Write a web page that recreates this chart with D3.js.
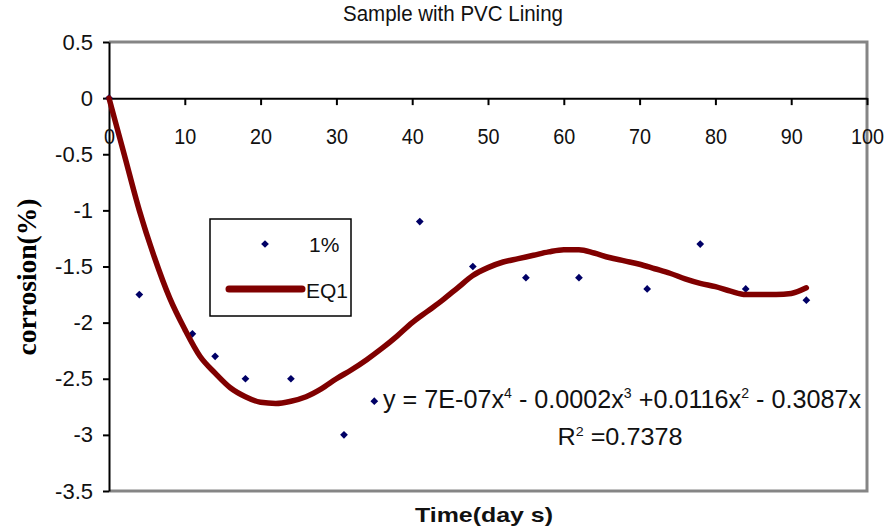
<!DOCTYPE html>
<html>
<head>
<meta charset="utf-8">
<script src="https://cdn.jsdelivr.net/npm/d3@7"></script>
<style>
  body { margin: 0; background: #fff; }
  svg { display: block; font-family: Arial, "Liberation Sans", sans-serif; }
</style>
</head>
<body>
<svg id="chart" width="888" height="529"></svg>
<script>
// measured points (1% series)
const days = [0, 4, 11, 14, 18, 24, 31, 35, 41, 48, 55, 62, 71, 78, 84, 92];
const corrosion = [0, -1.75, -2.1, -2.3, -2.5, -2.5, -3.0, -2.7, -1.1, -1.5, -1.6, -1.6, -1.7, -1.3, -1.7, -1.8];

// EQ1 trend curve
const eqDays = [0, 2, 4, 6, 8, 10, 12, 14, 16, 18, 20, 22, 24, 26, 28, 30, 32, 34, 36, 38, 40,
  42, 44, 46, 48, 50, 52, 54, 56, 58, 60, 62, 64, 66, 68, 70, 72, 74, 76, 78, 80, 82, 84, 86, 88, 90, 92];
const eqValues = [0, -0.5, -1.0, -1.42, -1.78, -2.06, -2.3, -2.45, -2.58, -2.66, -2.71, -2.72, -2.7,
  -2.66, -2.59, -2.5, -2.42, -2.33, -2.23, -2.12, -2.0, -1.9, -1.8, -1.69, -1.58, -1.51, -1.46, -1.43,
  -1.4, -1.37, -1.35, -1.35, -1.38, -1.42, -1.45, -1.48, -1.52, -1.56, -1.61, -1.65, -1.68, -1.72,
  -1.75, -1.75, -1.75, -1.74, -1.69];

const xTicks = [0, 10, 20, 30, 40, 50, 60, 70, 80, 90, 100];
const yTicks = [0.5, 0, -0.5, -1, -1.5, -2, -2.5, -3, -3.5];

const svg = d3.select('#chart');

const x = d3.scaleLinear().domain([0, 100]).range([109, 867]);
const y = d3.scaleLinear().domain([-3.5, 0.5]).range([491, 42]);

// title
svg.append('text')
  .attr('x', 453)
  .attr('y', 21)
  .attr('text-anchor', 'middle')
  .attr('font-size', 22)
  .attr('textLength', 220)
  .attr('lengthAdjust', 'spacingAndGlyphs')
  .attr('fill', '#111')
  .text('Sample with PVC Lining');

// gray plot frame (top, right, bottom)
svg.append('path')
  .attr('d', `M${x(0)},${y(0.5)}H${x(100)}V${y(-3.5)}H${x(0)}`)
  .attr('fill', 'none')
  .attr('stroke', '#858585')
  .attr('stroke-width', 3);

// y axis
const yAxis = d3.axisLeft(y)
  .tickValues(yTicks)
  .tickSize(6)
  .tickSizeOuter(0)
  .tickPadding(10)
  .tickFormat(d => String(d));

const gy = svg.append('g')
  .attr('transform', `translate(${x(0)},0)`)
  .call(yAxis);

gy.select('.domain').attr('stroke', '#000').attr('stroke-width', 2);
gy.selectAll('.tick line').attr('stroke', '#000').attr('stroke-width', 2);
gy.selectAll('.tick text')
  .attr('font-size', 22)
  .attr('font-family', 'Arial, "Liberation Sans", sans-serif')
  .attr('fill', '#111');

// x axis sits on y = 0
const xAxis = d3.axisBottom(x)
  .tickValues(xTicks)
  .tickSize(7)
  .tickSizeOuter(0)
  .tickPadding(23)
  .tickFormat(d => String(d));

const gx = svg.append('g')
  .attr('transform', `translate(0,${y(0)})`)
  .call(xAxis);

gx.select('.domain').attr('stroke', '#000').attr('stroke-width', 2);
gx.selectAll('.tick line').attr('stroke', '#000').attr('stroke-width', 2);
gx.selectAll('.tick text')
  .attr('font-size', 22)
  .attr('transform', 'scale(0.9,1)')
  .attr('font-family', 'Arial, "Liberation Sans", sans-serif')
  .attr('fill', '#111');

// axis titles
svg.append('text')
  .attr('transform', 'translate(36,277) rotate(-90)')
  .attr('text-anchor', 'middle')
  .attr('font-family', '"Times New Roman", "Liberation Serif", serif')
  .attr('font-weight', 'bold')
  .attr('font-size', 28)
  .attr('textLength', 157)
  .attr('lengthAdjust', 'spacingAndGlyphs')
  .text('corrosion(%)');

svg.append('text')
  .attr('x', 484)
  .attr('y', 522)
  .attr('text-anchor', 'middle')
  .attr('font-weight', 'bold')
  .attr('font-size', 21)
  .attr('textLength', 138)
  .attr('lengthAdjust', 'spacingAndGlyphs')
  .attr('fill', '#111')
  .text('Time(day s)');

// markers first, trend line drawn over them
const marker = d3.symbol().type(d3.symbolSquare).size(30);
const points = days.map((d, i) => ({ day: d, value: corrosion[i] }));

svg.append('g')
  .selectAll('path')
  .data(points)
  .enter()
  .append('path')
  .attr('d', marker)
  .attr('transform', d => `translate(${x(d.day)},${y(d.value)}) rotate(45)`)
  .attr('fill', '#000066');

const eq = eqDays.map((d, i) => ({ day: d, value: eqValues[i] }));

const line = d3.line()
  .x(d => x(d.day))
  .y(d => y(d.value))
  .curve(d3.curveMonotoneX);

svg.append('path')
  .datum(eq)
  .attr('d', line)
  .attr('fill', 'none')
  .attr('stroke', '#800000')
  .attr('stroke-width', 5.5)
  .attr('stroke-linecap', 'round')
  .attr('stroke-linejoin', 'round');

// legend
const legend = svg.append('g');

legend.append('rect')
  .attr('x', 210)
  .attr('y', 219)
  .attr('width', 141)
  .attr('height', 97)
  .attr('fill', '#fff')
  .attr('stroke', '#000')
  .attr('stroke-width', 1.5);

legend.append('path')
  .attr('d', marker)
  .attr('transform', 'translate(265,244) rotate(45)')
  .attr('fill', '#000066');

legend.append('text')
  .attr('x', 309)
  .attr('y', 252)
  .attr('font-size', 21)
  .attr('fill', '#111')
  .text('1%');

legend.append('line')
  .attr('x1', 229)
  .attr('x2', 302)
  .attr('y1', 289)
  .attr('y2', 289)
  .attr('stroke', '#800000')
  .attr('stroke-width', 7)
  .attr('stroke-linecap', 'round');

legend.append('text')
  .attr('x', 306)
  .attr('y', 298)
  .attr('font-size', 21)
  .attr('fill', '#111')
  .text('EQ1');

// trendline equation
const eqText = svg.append('text')
  .attr('x', 383)
  .attr('y', 408)
  .attr('font-size', 25)
  .attr('fill', '#111')
  .attr('textLength', 478)
  .attr('lengthAdjust', 'spacingAndGlyphs');

const parts = ['y = 7E-07x', '4', ' - 0.0002x', '3', ' +0.0116x', '2', ' - 0.3087x'];
parts.forEach((t, i) => {
  const sup = i % 2 === 1;
  eqText.append('tspan')
    .attr('font-size', sup ? 14 : 25)
    .attr('dy', i === 0 ? 0 : (sup ? -10 : 10))
    .text(t);
});

const r2 = svg.append('text')
  .attr('x', 620)
  .attr('y', 445)
  .attr('text-anchor', 'middle')
  .attr('font-size', 23)
  .attr('fill', '#111')
  .attr('textLength', 125)
  .attr('lengthAdjust', 'spacingAndGlyphs');

r2.append('tspan').text('R');
r2.append('tspan').attr('font-size', 13).attr('dy', -9).text('2');
r2.append('tspan').attr('dy', 9).text(' =0.7378');
</script>
</body>
</html>
